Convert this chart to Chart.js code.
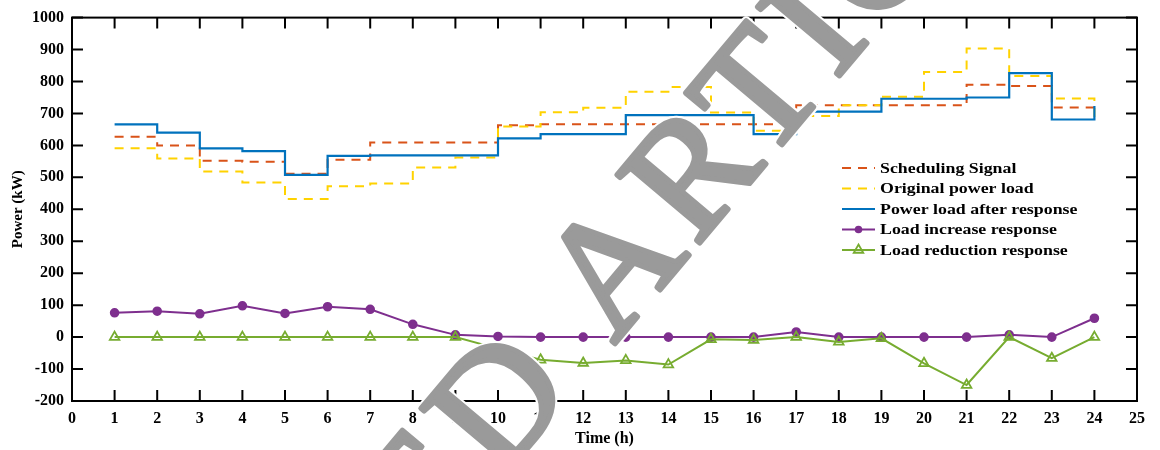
<!DOCTYPE html>
<html>
<head>
<meta charset="utf-8">
<title>Power load response</title>
<script src="https://cdn.jsdelivr.net/npm/chart.js@4.4.1/dist/chart.umd.min.js"></script>
<style>
  html, body { margin: 0; padding: 0; background: #fff; }
  #wrap { width: 1160px; height: 450px; }
</style>
</head>
<body>
<div id="wrap"><canvas id="chart" width="1160" height="450"></canvas></div>
<script>
// Data (kW per hour)
const hours = [1, 2, 3, 4, 5, 6, 7, 8, 9, 10, 11, 12, 13, 14, 15, 16, 17, 18, 19, 20, 21, 22, 23, 24];
const schedulingSignal = [627, 600, 552, 549, 511, 555, 609, 609, 609, 663, 666, 666, 666, 666, 666, 666, 726, 726, 726, 726, 790, 786, 719, 719];
const originalLoad = [591, 559, 518, 484, 432, 472, 481, 531, 562, 659, 704, 718, 768, 783, 703, 646, 692, 726, 752, 830, 903, 817, 747, 667];
const afterResponse = [666, 640, 591, 582, 508, 567, 569, 569, 569, 622, 635, 635, 695, 695, 695, 635, 706, 706, 746, 746, 750, 826, 681, 723];
const increaseResponse = [76, 81, 73, 98, 74, 95, 87, 40, 7, 2, 0, 0, 0, 0, 0, 0, 16, 0, 0, 0, 0, 7, 0, 59];
const reductionResponse = [0, 0, 0, 0, 0, 0, 0, 0, 0, -36, -71, -81, -73, -86, -7, -9, 0, -15, -4, -82, -150, 0, -66, 0];

const xMin = 0, xMax = 25;
const yMin = -200, yMax = 1000, yStep = 100;

const serif = '"Liberation Serif", "Times New Roman", serif';
const toPoints = ys => hours.map((h, i) => ({ x: h, y: ys[i] }));

// Inward ticks on all four sides plus the box (MATLAB style)
const axisBox = {
  id: 'axisBox',
  afterDatasetsDraw(chart) {
    const { ctx, chartArea: a, scales: { x, y } } = chart;
    ctx.save();
    ctx.strokeStyle = '#000';
    ctx.lineWidth = 2;
    ctx.beginPath();
    x.ticks.forEach(t => {
      const px = x.getPixelForValue(t.value);
      ctx.moveTo(px, a.bottom); ctx.lineTo(px, a.bottom - 11);
      ctx.moveTo(px, a.top); ctx.lineTo(px, a.top + 11);
    });
    y.ticks.forEach(t => {
      const py = y.getPixelForValue(t.value);
      ctx.moveTo(a.left, py); ctx.lineTo(a.left + 11, py);
      ctx.moveTo(a.right, py); ctx.lineTo(a.right - 11, py);
    });
    ctx.stroke();
    ctx.strokeRect(a.left, a.top, a.right - a.left, a.bottom - a.top);
    ctx.restore();
  }
};

// Legend drawn inside the plot area
const innerLegend = {
  id: 'innerLegend',
  afterDatasetsDraw(chart) {
    const ctx = chart.ctx;
    const x0 = 842, x1 = 875, tx = 880, top = 168, row = 20.5;
    ctx.save();
    chart.data.datasets.forEach((ds, i) => {
      const yy = top + i * row;
      ctx.strokeStyle = ds.borderColor;
      ctx.lineWidth = 2;
      ctx.setLineDash(ds.borderDash || []);
      ctx.beginPath();
      ctx.moveTo(x0, yy); ctx.lineTo(x1, yy);
      ctx.stroke();
      ctx.setLineDash([]);
      const mx = (x0 + x1) / 2;
      if (ds.pointStyle === 'circle' && ds.pointRadius > 0) {
        ctx.fillStyle = ds.pointBackgroundColor;
        ctx.beginPath();
        ctx.arc(mx, yy, ds.pointRadius, 0, Math.PI * 2);
        ctx.fill();
      } else if (ds.pointStyle === 'triangle') {
        const r = ds.pointRadius;
        ctx.lineWidth = ds.pointBorderWidth;
        ctx.beginPath();
        ctx.moveTo(mx, yy - r);
        ctx.lineTo(mx + r * 0.866, yy + r * 0.5);
        ctx.lineTo(mx - r * 0.866, yy + r * 0.5);
        ctx.closePath();
        ctx.stroke();
      }
      ctx.fillStyle = '#000';
      ctx.font = 'bold 15px ' + serif;
      ctx.textBaseline = 'middle';
      ctx.save();
      ctx.translate(tx, yy);
      ctx.scale(1.19, 1);
      ctx.fillText(ds.label, 0, 1);
      ctx.restore();
    });
    ctx.restore();
  }
};

// Diagonal grey watermark over the figure
const watermark = {
  id: 'watermark',
  afterDraw(chart) {
    const ctx = chart.ctx;
    const text = 'RETRACTED ARTICLE';
    ctx.save();
    ctx.font = '164px ' + serif;
    ctx.letterSpacing = '9px';
    ctx.lineJoin = 'round';
    const lead = ctx.measureText('RETRACTED ').width;
    ctx.translate(614, 345);
    ctx.rotate(-50 * Math.PI / 180);
    ctx.lineWidth = 9;
    ctx.strokeStyle = '#fff';
    ctx.strokeText(text, -lead, 0);
    ctx.fillStyle = '#9a9a9a';
    ctx.strokeStyle = '#9a9a9a';
    ctx.lineWidth = 5;
    ctx.fillText(text, -lead, 0);
    ctx.strokeText(text, -lead, 0);
    ctx.restore();
  }
};

const plainTick = v => String(v);

new Chart(document.getElementById('chart'), {
  type: 'line',
  data: {
    datasets: [
      {
        label: 'Scheduling Signal',
        data: toPoints(schedulingSignal),
        borderColor: '#D95319',
        borderDash: [9, 7],
        borderWidth: 2,
        stepped: true,
        pointRadius: 0,
        order: 5
      },
      {
        label: 'Original power load',
        data: toPoints(originalLoad),
        borderColor: '#FFD200',
        borderDash: [9, 7],
        borderWidth: 2,
        stepped: true,
        pointRadius: 0,
        order: 4
      },
      {
        label: 'Power load after response',
        data: toPoints(afterResponse),
        borderColor: '#0072BD',
        borderWidth: 2.2,
        stepped: true,
        pointRadius: 0,
        order: 3
      },
      {
        label: 'Load increase response',
        data: toPoints(increaseResponse),
        borderColor: '#7E2F8E',
        borderWidth: 2,
        pointStyle: 'circle',
        pointRadius: 3.8,
        pointBackgroundColor: '#7E2F8E',
        pointBorderColor: '#7E2F8E',
        order: 2
      },
      {
        label: 'Load reduction response',
        data: toPoints(reductionResponse),
        borderColor: '#77AC30',
        borderWidth: 2,
        pointStyle: 'triangle',
        pointRadius: 5.5,
        pointBorderWidth: 1.8,
        pointBackgroundColor: 'rgba(255,255,255,0)',
        pointBorderColor: '#77AC30',
        order: 1
      }
    ]
  },
  options: {
    responsive: false,
    animation: false,
    layout: { padding: { top: 16, right: 23, left: 0, bottom: 0 } },
    plugins: { legend: { display: false }, tooltip: { enabled: false } },
    scales: {
      x: {
        type: 'linear',
        min: xMin,
        max: xMax,
        afterFit: s => { s.height = 49; },
        grid: { display: false, drawTicks: false },
        border: { display: false },
        ticks: {
          stepSize: 1,
          padding: 8,
          color: '#000',
          callback: plainTick,
          font: { family: serif, size: 16, weight: 'bold' }
        },
        title: {
          display: true,
          text: 'Time (h)',
          color: '#000',
          font: { family: serif, size: 16, weight: 'bold' },
          padding: { top: 0, bottom: 2 }
        }
      },
      y: {
        min: yMin,
        max: yMax,
        afterFit: s => { s.width = 72; },
        grid: { display: false, drawTicks: false },
        border: { display: false },
        ticks: {
          stepSize: yStep,
          padding: 8,
          color: '#000',
          callback: plainTick,
          font: { family: serif, size: 16, weight: 'bold' }
        },
        title: {
          display: true,
          text: 'Power (kW)',
          color: '#000',
          font: { family: serif, size: 15, weight: 'bold' },
          padding: { top: 9, bottom: 0 }
        }
      }
    }
  },
  plugins: [axisBox, innerLegend, watermark]
});
</script>
</body>
</html>
